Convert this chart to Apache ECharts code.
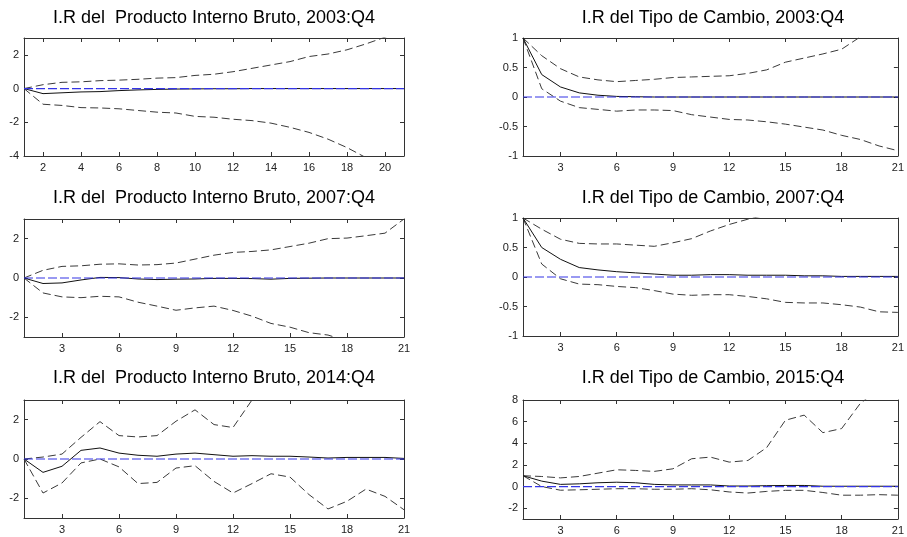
<!DOCTYPE html>
<html>
<head>
<meta charset="utf-8">
<script src="https://cdn.jsdelivr.net/npm/echarts@6/dist/echarts.min.js"></script>
<style>html,body{margin:0;padding:0;background:#fff;}#c{width:907px;height:537px;}</style>
</head>
<body>
<div id="c"></div>
<script>
// ---- data ----
const periods = [1,2,3,4,5,6,7,8,9,10,11,12,13,14,15,16,17,18,19,20,21];
const zeroLine = [0,0,0,0,0,0,0,0,0,0,0,0,0,0,0,0,0,0,0,0,0];

const titles = [
  "I.R del  Producto Interno Bruto, 2003:Q4",
  "I.R del Tipo de Cambio, 2003:Q4",
  "I.R del  Producto Interno Bruto, 2007:Q4",
  "I.R del Tipo de Cambio, 2007:Q4",
  "I.R del  Producto Interno Bruto, 2014:Q4",
  "I.R del Tipo de Cambio, 2015:Q4"
];

// Panel 1: PIB 2003:Q4
const irf1 = [0,-0.3,-0.25,-0.2,-0.18,-0.12,-0.08,-0.05,-0.03,-0.02,-0.01,-0.01,0,0,0,0,0,0,0,0,0];
const up1  = [0,0.23,0.37,0.4,0.47,0.5,0.55,0.62,0.65,0.78,0.85,1.0,1.2,1.4,1.6,1.9,2.05,2.3,2.65,3.05,3.4];
const lo1  = [0,-0.93,-1.0,-1.13,-1.15,-1.2,-1.3,-1.4,-1.45,-1.65,-1.7,-1.82,-1.9,-2.05,-2.3,-2.6,-3.0,-3.5,-4.1,-4.6,-5.2];

// Panel 2: TC 2003:Q4
const irf2 = [1,0.38,0.17,0.07,0.03,0.01,0.005,0,0,0,0,0,0,0,0,0,0,0,0,0,0];
const up2  = [1,0.7,0.48,0.34,0.29,0.26,0.28,0.3,0.33,0.34,0.35,0.36,0.4,0.46,0.59,0.66,0.73,0.81,1.02,1.15,1.3];
const lo2  = [1,0.14,-0.07,-0.18,-0.21,-0.24,-0.22,-0.22,-0.23,-0.3,-0.34,-0.38,-0.39,-0.42,-0.46,-0.51,-0.56,-0.65,-0.72,-0.83,-0.91];

// Panel 3: PIB 2007:Q4
const irf3 = [0,-0.28,-0.25,-0.1,0.03,0.02,-0.05,-0.08,-0.06,-0.05,-0.02,-0.02,-0.03,-0.06,-0.02,-0.01,0,0,0,0,0];
const up3  = [0,0.39,0.59,0.62,0.7,0.72,0.66,0.68,0.76,0.96,1.16,1.3,1.35,1.43,1.6,1.77,2.0,2.03,2.15,2.28,3.0];
const lo3  = [0,-0.76,-0.96,-1.0,-0.93,-0.96,-1.23,-1.43,-1.64,-1.52,-1.43,-1.65,-1.94,-2.31,-2.5,-2.78,-2.9,-3.2,-3.5,-3.8,-4.0];

// Panel 4: TC 2007:Q4
const irf4 = [1,0.5,0.3,0.16,0.12,0.09,0.07,0.05,0.03,0.03,0.04,0.04,0.03,0.03,0.03,0.02,0.02,0.01,0.01,0.01,0.01];
const up4  = [1,0.81,0.64,0.57,0.56,0.56,0.54,0.52,0.58,0.65,0.78,0.89,0.98,1.05,1.1,1.15,1.2,1.25,1.3,1.35,1.4];
const lo4  = [1,0.22,-0.03,-0.12,-0.13,-0.16,-0.18,-0.23,-0.29,-0.31,-0.3,-0.3,-0.33,-0.37,-0.43,-0.44,-0.44,-0.47,-0.51,-0.59,-0.6];

// Panel 5: PIB 2014:Q4
const irf5 = [0,-0.68,-0.37,0.44,0.56,0.3,0.19,0.14,0.25,0.3,0.22,0.14,0.17,0.14,0.14,0.1,0.05,0.08,0.08,0.08,0.03];
const up5  = [0,0.1,0.25,1.1,1.9,1.19,1.12,1.19,1.92,2.5,1.75,1.6,3.0,3.9,4.3,4.5,4.8,5.0,5.2,5.4,5.6];
const lo5  = [0,-1.73,-1.22,-0.2,0.0,-0.4,-1.25,-1.19,-0.46,-0.34,-1.14,-1.73,-1.25,-0.75,-0.92,-1.81,-2.54,-2.15,-1.53,-1.9,-2.58];

// Panel 6: TC 2015:Q4
const irf6 = [1,0.5,0.2,0.25,0.35,0.4,0.35,0.2,0.15,0.15,0.15,0.05,0.05,0.08,0.1,0.1,0.03,0.03,0.03,0.03,0.03];
const up6  = [1,0.93,0.8,0.93,1.24,1.55,1.49,1.4,1.64,2.57,2.72,2.26,2.41,3.6,6.13,6.6,4.98,5.36,7.7,9.0,10.0];
const lo6  = [1,0.0,-0.34,-0.3,-0.25,-0.2,-0.2,-0.25,-0.25,-0.2,-0.3,-0.5,-0.6,-0.45,-0.35,-0.35,-0.55,-0.8,-0.8,-0.75,-0.8];

// axis ranges and tick labels
const yMins = [-4,-1,-3,-1,-3,-3];
const yMaxs = [3,1,3,1,3,8];
const yTicks = [
  [-4,-2,0,2],
  [-1,-0.5,0,0.5,1],
  [-2,0,2],
  [-1,-0.5,0,0.5,1],
  [-2,0,2],
  [-2,0,2,4,6,8]
];
const xTicks = [
  [2,4,6,8,10,12,14,16,18,20],
  [3,6,9,12,15,18,21],
  [3,6,9,12,15,18,21],
  [3,6,9,12,15,18,21],
  [3,6,9,12,15,18,21],
  [3,6,9,12,15,18,21]
];
const irfs = [irf1,irf2,irf3,irf4,irf5,irf6];
const ups = [up1,up2,up3,up4,up5,up6];
const los = [lo1,lo2,lo3,lo4,lo5,lo6];

// ---- layout ----
const gridBoxes = [
  {left:24, top:38, width:380, height:118},
  {left:523, top:38, width:380, height:118},
  {left:24, top:219, width:380, height:118},
  {left:523, top:218, width:380, height:118},
  {left:24, top:400, width:380, height:118},
  {left:523, top:400, width:380, height:119}
];
const titlePos = [[214,18],[713,18],[214,198],[713,198],[214,378],[713,378]];

const FONT = '"Liberation Sans", Arial, sans-serif';
const frameColor = '#333';
const labelStyle = {color:'#222', fontSize:11, fontFamily:FONT};

const grid = [], xAxis = [], yAxis = [], series = [], graphic = [];
function pairs(arr){ return periods.map((p,i)=>[p, arr[i]]); }

for (let k = 0; k < 6; k++) {
  grid.push(Object.assign({containLabel:false}, gridBoxes[k]));
  const axLine = {show:true, onZero:false, lineStyle:{color:frameColor, width:1}};
  const tick = (vals)=>({show:true, inside:true, length:4, lineStyle:{color:frameColor}, customValues:vals});
  xAxis.push({type:'value', gridIndex:k, min:1, max:21, position:'bottom',
    axisLine:axLine, axisTick:tick(xTicks[k]),
    axisLabel:Object.assign({show:true, margin:6, customValues:xTicks[k]}, labelStyle),
    splitLine:{show:false}});
  xAxis.push({type:'value', gridIndex:k, min:1, max:21, position:'top',
    axisLine:axLine, axisTick:tick(xTicks[k]), axisLabel:{show:false, customValues:xTicks[k]},
    splitLine:{show:false}});
  yAxis.push({type:'value', gridIndex:k, min:yMins[k], max:yMaxs[k], position:'left',
    axisLine:axLine, axisTick:tick(yTicks[k]),
    axisLabel:Object.assign({show:true, margin:5, customValues:yTicks[k]}, labelStyle),
    splitLine:{show:false}});
  yAxis.push({type:'value', gridIndex:k, min:yMins[k], max:yMaxs[k], position:'right',
    axisLine:axLine, axisTick:tick(yTicks[k]), axisLabel:{show:false, customValues:yTicks[k]},
    splitLine:{show:false}});

  const xi = 2*k, yi = 2*k;
  const base = {type:'line', xAxisIndex:xi, yAxisIndex:yi, showSymbol:false, symbol:'none', clip:true, animation:false, silent:true};
  series.push(Object.assign({}, base, {name:'upper'+k, data:pairs(ups[k]), lineStyle:{color:'#3a3a3a', width:1, type:[8,4]}}));
  series.push(Object.assign({}, base, {name:'lower'+k, data:pairs(los[k]), lineStyle:{color:'#3a3a3a', width:1, type:[8,4]}}));
  series.push(Object.assign({}, base, {name:'irf'+k, data:pairs(irfs[k]), lineStyle:{color:'#111', width:1, type:'solid'}}));
  series.push(Object.assign({}, base, {name:'zero'+k, z:3, data:pairs(zeroLine), lineStyle:{color:'#3535e6', width:1.2, type:[9,3]}}));

  graphic.push({type:'text', x:titlePos[k][0], y:titlePos[k][1],
    style:{text:titles[k], fill:'#000', font:'18px ' + FONT, textAlign:'center', textVerticalAlign:'middle'}});
}

const chart = echarts.init(document.getElementById('c'), null, {renderer:'canvas'});
chart.setOption({
  animation:false,
  backgroundColor:'#fff',
  grid, xAxis, yAxis, series, graphic
});
</script>
</body>
</html>
